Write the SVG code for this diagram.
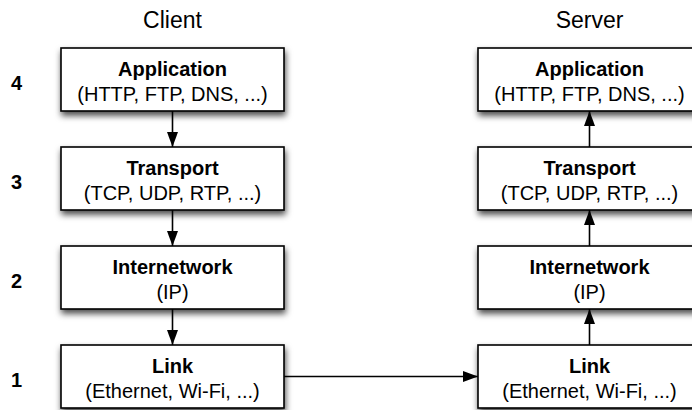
<svg xmlns="http://www.w3.org/2000/svg" width="692" height="410" viewBox="0 0 692 410">
<defs>
<filter id="sh" x="-10%" y="-20%" width="130%" height="160%">
<feDropShadow dx="1" dy="4" stdDeviation="3" flood-color="#000" flood-opacity="0.7"/>
</filter>
<marker id="ah" markerWidth="15" markerHeight="11" refX="15" refY="5.5" orient="auto" markerUnits="userSpaceOnUse">
<path d="M0,0 L15,5.5 L0,11 Z" fill="#000"/>
</marker>
<style>
.box{fill:#fff;stroke:#000;stroke-width:1.6;filter:url(#sh)}
.t{font-family:"Liberation Sans",Arial,sans-serif;font-size:20px;text-anchor:middle;fill:#000}
.b{font-weight:bold}
.h{font-family:"Liberation Sans",Arial,sans-serif;font-size:23px;text-anchor:middle;fill:#000}
.n{font-family:"Liberation Sans",Arial,sans-serif;font-size:20px;font-weight:bold;text-anchor:middle;fill:#000}
.c{stroke:#000;stroke-width:1.6;fill:none;marker-end:url(#ah)}
</style>
</defs>
<text class="h" x="172.5" y="28">Client</text>
<text class="h" x="589.5" y="28">Server</text>
<g id="levels">
<text class="n" x="16.5" y="90">4</text>
<text class="n" x="16.5" y="189">3</text>
<text class="n" x="16.5" y="288">2</text>
<text class="n" x="16.5" y="387">1</text>
</g>
<g id="c-app"><rect class="box" x="61" y="48" width="223" height="63"/><text class="t b" x="172.5" y="76">Application</text><text class="t" x="172.5" y="101">(HTTP, FTP, DNS, ...)</text></g>
<g id="c-tra"><rect class="box" x="61" y="147" width="223" height="63"/><text class="t b" x="172.5" y="175">Transport</text><text class="t" x="172.5" y="200">(TCP, UDP, RTP, ...)</text></g>
<g id="c-int"><rect class="box" x="61" y="246" width="223" height="63"/><text class="t b" x="172.5" y="274">Internetwork</text><text class="t" x="172.5" y="299">(IP)</text></g>
<g id="c-lnk"><rect class="box" x="61" y="345" width="223" height="63"/><text class="t b" x="172.5" y="373">Link</text><text class="t" x="172.5" y="398">(Ethernet, Wi-Fi, ...)</text></g>
<g id="s-app"><rect class="box" x="478" y="48" width="223" height="63"/><text class="t b" x="589.5" y="76">Application</text><text class="t" x="589.5" y="101">(HTTP, FTP, DNS, ...)</text></g>
<g id="s-tra"><rect class="box" x="478" y="147" width="223" height="63"/><text class="t b" x="589.5" y="175">Transport</text><text class="t" x="589.5" y="200">(TCP, UDP, RTP, ...)</text></g>
<g id="s-int"><rect class="box" x="478" y="246" width="223" height="63"/><text class="t b" x="589.5" y="274">Internetwork</text><text class="t" x="589.5" y="299">(IP)</text></g>
<g id="s-lnk"><rect class="box" x="478" y="345" width="223" height="63"/><text class="t b" x="589.5" y="373">Link</text><text class="t" x="589.5" y="398">(Ethernet, Wi-Fi, ...)</text></g>
<g id="connectors">
<line class="c" x1="172.5" y1="111" x2="172.5" y2="147"/>
<line class="c" x1="172.5" y1="210" x2="172.5" y2="246"/>
<line class="c" x1="172.5" y1="309" x2="172.5" y2="345"/>
<line class="c" x1="284" y1="376.5" x2="478" y2="376.5"/>
<line class="c" x1="589.5" y1="345" x2="589.5" y2="309"/>
<line class="c" x1="589.5" y1="246" x2="589.5" y2="210"/>
<line class="c" x1="589.5" y1="147" x2="589.5" y2="111"/>
</g>
</svg>
